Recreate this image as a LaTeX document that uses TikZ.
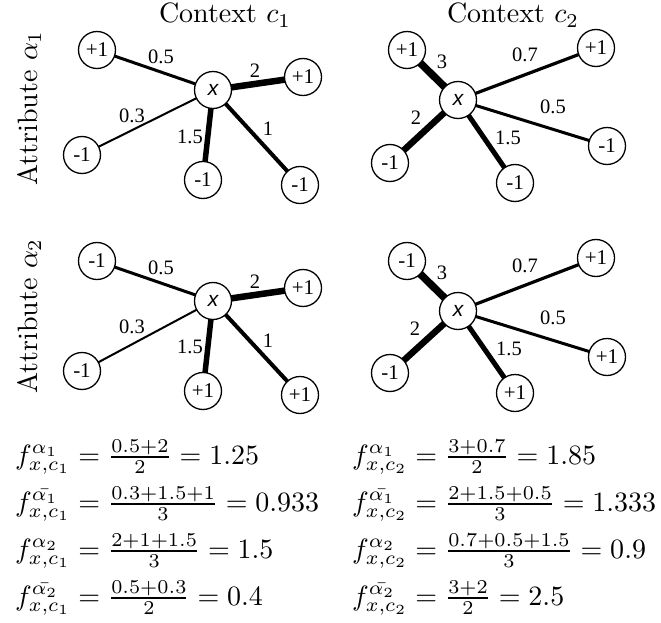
\documentclass[tikz,border=0pt]{standalone}
\usepackage{fontspec}
\usetikzlibrary{backgrounds}
\newfontfamily\labfont{Liberation Serif}
\newfontfamily\xfont{Liberation Sans}
\newcommand{\bigtxt}[1]{\scalebox{2.8}{#1}}
\tikzset{
  nd/.style={circle, draw, line width=1.3pt, fill=white, minimum size=37pt, inner sep=0pt, font=\labfont\fontsize{21}{25}\selectfont},
  xnd/.style={nd, font=\xfont\itshape\fontsize{21}{25}\selectfont},
  wl/.style={font=\labfont\fontsize{20.5}{24}\selectfont, inner sep=0pt},
  big/.style={font=\fontsize{10}{12}\selectfont, inner sep=0pt},
  eq/.style={big, anchor=base west},
}
\begin{document}
\begin{tikzpicture}[x=1pt,y=-1pt]
\useasboundingbox (0,0) rectangle (661,623);
% titles
\node[big, anchor=base] (t1) at (225,23) {\bigtxt{Context $c_1$}};
\node[big, anchor=base] (t2) at (513,23) {\bigtxt{Context $c_2$}};
\node[big, anchor=base, rotate=90] (a1) at (37,108) {\bigtxt{Attribute $\alpha_1$}};
\node[big, anchor=base, rotate=90] (a2) at (37,316) {\bigtxt{Attribute $\alpha_2$}};

% panel top-left
\node[xnd] (x1) at (213,90) {x};
\node[nd] (p1a) at (97,50) {+1};
\node[nd] (p1b) at (303,77) {+1};
\node[nd] (p1c) at (82,155) {-1};
\node[nd] (p1d) at (203,180) {-1};
\node[nd] (p1e) at (300,185) {-1};
\begin{scope}[shift={(0,211)}]
\node[xnd] (x3) at (213,90) {x};
\node[nd] (p3a) at (97,50) {-1};
\node[nd] (p3b) at (303,77) {+1};
\node[nd] (p3c) at (82,160) {-1};
\node[nd] (p3d) at (203,180) {+1};
\node[nd] (p3e) at (300,184) {+1};
\end{scope}
% panel top-right
\node[xnd] (x2) at (458,100) {x};
\node[nd] (p2a) at (407,50) {+1};
\node[nd] (p2b) at (596,48) {+1};
\node[nd] (p2c) at (607,146) {-1};
\node[nd] (p2d) at (390,163) {-1};
\node[nd] (p2e) at (515,183) {-1};
\begin{scope}[shift={(0,211)}]
\node[xnd] (x4) at (458,100) {x};
\node[nd] (p4a) at (407,50) {-1};
\node[nd] (p4b) at (596,47) {+1};
\node[nd] (p4c) at (607,146) {+1};
\node[nd] (p4d) at (390,162) {-1};
\node[nd] (p4e) at (515,182) {+1};
\end{scope}

% edges
\begin{pgfonlayer}{background}
\foreach \a/\w in {a/3, b/6.5, c/2, d/5.5, e/4}{
  \draw[line width=\w pt] (x1.center) -- (p1\a.center);
  \draw[line width=\w pt] (x3.center) -- (p3\a.center);
}
\foreach \a/\w in {a/7.5, b/3.2, c/3, d/6.5, e/5}{
  \draw[line width=\w pt] (x2.center) -- (p2\a.center);
  \draw[line width=\w pt] (x4.center) -- (p4\a.center);
}
\end{pgfonlayer}

% edge labels
\node[wl] (l1a) at (161,57) {0.5};
\node[wl] (l1b) at (255,71) {2};
\node[wl] (l1c) at (132,116) {0.3};
\node[wl] (l1d) at (190,137) {1.5};
\node[wl] (l1e) at (268,129) {1};
\node[wl] (l3a) at (161,268) {0.5};
\node[wl] (l3b) at (255,282) {2};
\node[wl] (l3c) at (132,327) {0.3};
\node[wl] (l3d) at (190,347) {1.5};
\node[wl] (l3e) at (268,341) {1};
\node[wl] (l2a) at (442,62) {3};
\node[wl] (l2b) at (525,55) {0.7};
\node[wl] (l2c) at (553,107) {0.5};
\node[wl] (l2d) at (416,118) {2};
\node[wl] (l2e) at (508,138) {1.5};
\node[wl] (l4a) at (442,273) {3};
\node[wl] (l4b) at (525,266) {0.7};
\node[wl] (l4c) at (553,318) {0.5};
\node[wl] (l4d) at (415,329) {2};
\node[wl] (l4e) at (509,349) {1.5};

% equations
\node[eq] (e1) at (15,464) {\bigtxt{$f^{\alpha_1}_{x,c_1} = \frac{0.5+2}{2} = 1.25$}};
\node[eq] (e2) at (15,511) {\bigtxt{$f^{\bar{\alpha_1}}_{x,c_1} = \frac{0.3+1.5+1}{3} = 0.933$}};
\node[eq] (e3) at (15,558) {\bigtxt{$f^{\alpha_2}_{x,c_1} = \frac{2+1+1.5}{3} = 1.5$}};
\node[eq] (e4) at (15,605) {\bigtxt{$f^{\bar{\alpha_2}}_{x,c_1} = \frac{0.5+0.3}{2} = 0.4$}};
\node[eq] (e5) at (352,464) {\bigtxt{$f^{\alpha_1}_{x,c_2} = \frac{3+0.7}{2} = 1.85$}};
\node[eq] (e6) at (352,511) {\bigtxt{$f^{\bar{\alpha_1}}_{x,c_2} = \frac{2+1.5+0.5}{3} = 1.333$}};
\node[eq] (e7) at (352,558) {\bigtxt{$f^{\alpha_2}_{x,c_2} = \frac{0.7+0.5+1.5}{3} = 0.9$}};
\node[eq] (e8) at (352,605) {\bigtxt{$f^{\bar{\alpha_2}}_{x,c_2} = \frac{3+2}{2} = 2.5$}};
\end{tikzpicture}
\end{document}
